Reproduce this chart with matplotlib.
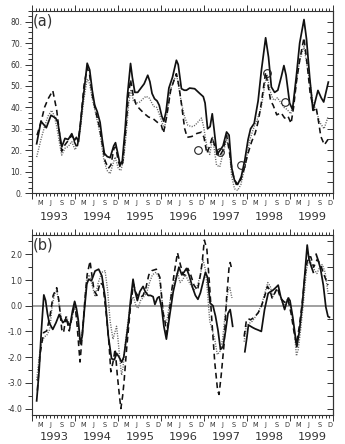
import numpy as np
import matplotlib
matplotlib.use('Agg')
import matplotlib.pyplot as plt
import matplotlib.transforms as mtransforms
from matplotlib.ticker import MultipleLocator, FixedLocator, NullLocator, FuncFormatter

# ---------------- data (months since Jan 1993, values) ----------------
# Panel (a)
a_solid_m = [1.3, 2.5, 4.0, 5.3, 6.6, 7.2, 8.3, 9.2, 10.1, 11.1, 11.8, 12.4, 13.0, 14.0, 15.4, 16.1,
             16.8, 17.5, 18.2, 19.0, 19.6, 20.2, 21.0, 21.8, 22.8, 23.3, 24.0, 24.6, 25.2, 26.0, 26.6,
             27.5, 28.0, 28.7, 29.5, 30.4, 31.3, 32.3, 32.9, 33.5, 34.2, 34.9, 35.5, 36.2, 36.8, 37.4,
             38.2, 39.2, 40.3, 40.8, 41.7, 42.5, 43.1, 44.0, 45.4, 46.8, 47.8, 48.3, 49.0, 49.7, 50.3,
             50.8, 51.6, 52.5, 53.3, 54.3, 55.0, 55.7, 56.5, 57.4, 58.4, 59.4, 60.3, 61.0, 62.0, 63.1,
             64.0, 65.2, 66.0, 66.8, 67.7, 68.6, 69.6, 70.3, 70.9, 71.9, 72.7, 73.8, 74.7, 75.9, 76.6,
             77.5, 78.4, 79.8, 80.7, 81.4, 82.7]
a_solid_v = [23, 33.5, 30.5, 36.3, 35, 33, 21.5, 25.5, 25, 27.7, 24.5, 26, 24, 40, 60.6, 57.5,
             48, 41, 38, 33, 25, 18.5, 17, 16.5, 22, 23.5, 18, 13, 15, 30, 45,
             60.5, 54, 47, 47, 49, 51, 55, 52, 46.5, 44, 43, 41, 36, 33.5, 38,
             49, 54, 62, 60, 48.7, 48, 48, 49, 48.7, 46.5, 45, 42, 30, 31, 37,
             30, 18, 20, 22, 28.5, 27, 12, 6, 4, 7.6, 15.5, 25, 30, 32.5, 43,
             57, 72.5, 63.5, 49.5, 47, 48, 54.5, 59.5, 55, 42, 39, 55, 70, 81, 72,
             54, 38.6, 47.9, 44.5, 42.5, 51.8]

a_dash_m = [1.4, 2.5, 3.5, 4.5, 5.8, 6.5, 6.9, 7.8, 8.3, 9.2, 10.1, 11.1, 11.8, 12.6, 13.5, 14.5,
            15.4, 16.1, 16.8, 17.8, 18.8, 19.7, 20.4, 21.3, 22.0, 22.9, 23.4, 24.0, 24.6, 25.3, 26.2,
            26.8, 27.5, 28.2, 29.1, 30.2, 31.4, 32.5, 33.8, 35.0, 36.1, 36.7, 37.5, 38.7, 39.5, 40.3,
            41.0, 41.7, 42.6, 43.3, 44.6, 46.0, 47.3, 48.0, 48.8, 49.6, 50.3, 51.0, 52.3, 53.3, 54.3,
            55.2, 56.0, 57.0, 58.0, 59.0, 60.3, 61.3, 62.3, 63.2, 64.0, 65.2, 65.9, 66.6, 67.3, 68.3,
            69.5, 70.5, 71.4, 72.3, 73.0, 73.8, 74.7, 75.9, 76.8, 77.6, 78.6, 79.3, 80.0, 80.6, 81.6,
            82.6]
a_dash_v = [27, 33, 40, 44, 47.8, 42, 38.6, 26, 19.5, 22.5, 24.5, 27, 24, 21, 32, 50,
            58.5, 55, 46, 38, 31, 22, 15, 11.5, 13, 21, 21.5, 15.5, 12, 14, 30,
            44, 53, 46, 41, 39, 37, 35.5, 34.7, 33, 31.6, 28, 35, 47.9, 52, 55.7,
            50, 41.7, 30.1, 26, 26.4, 27.8, 28.4, 26, 18.5, 22, 26, 22, 17, 20, 27,
            18, 9, 4, 5, 10, 18.6, 24, 28, 34, 42, 56.4, 50, 43, 41, 36.5,
            37.5, 35, 36, 32.5, 40, 52, 62, 72.5, 60, 47, 38.6, 40, 33, 26.4, 22.5,
            25]

a_dot_m = [1.3, 2.5, 3.5, 4.5, 5.5, 6.2, 6.9, 7.6, 8.3, 9.2, 10.1, 11.1, 12.0, 12.6, 13.5, 14.5,
           15.4, 16.1, 16.8, 17.8, 19.0, 20.0, 20.9, 21.8, 22.5, 23.2, 24.1, 24.8, 25.6, 26.3, 27.0,
           27.6, 28.3, 29.1, 30.1, 31.0, 31.8, 32.8, 33.9, 34.8, 35.6, 36.5, 37.0, 37.8, 38.6, 39.5,
           40.3, 41.0, 41.7, 42.6, 43.5, 44.6, 45.5, 46.5, 47.3, 47.9, 48.8, 49.6, 50.4, 51.5, 52.4,
           53.3, 54.3, 55.0, 55.7, 56.5, 57.4, 58.3, 59.6, 60.8, 62.0, 63.0, 64.0, 65.1, 65.6, 66.4,
           67.2, 67.7, 68.5, 69.5, 70.3, 71.2, 72.2, 73.0, 73.8, 74.7, 75.9, 76.7, 77.5, 78.4, 79.3,
           80.3, 81.5, 82.6]
a_dot_v = [16.8, 25, 31, 36, 38.6, 36, 31, 24, 17.7, 20.9, 21.7, 24, 20.2, 22, 30, 44,
           53.3, 51, 44, 37, 27.6, 16, 10.6, 9, 13, 16.8, 11.3, 10.5, 16, 28, 42,
           48.4, 43, 42, 42.5, 44, 45.2, 44.2, 40.5, 40, 36.5, 32, 30.5, 38, 47.9, 52,
           55.7, 49, 42, 35.5, 31.6, 31, 31.6, 33.5, 35, 31, 21.5, 18, 26, 13, 12.2,
           18.6, 24.8, 22, 8, 2, 1.2, 4, 13.6, 25, 31, 35, 40.2, 52, 55, 48,
           44, 43.3, 44.5, 42, 40, 39, 37, 42, 52, 61.9, 68.5, 60, 52.6, 42, 38.6,
           33, 30, 35.5]

a_circle_m = [46.4, 52.4, 58.4, 65.7, 70.5]
a_circle_v = [20, 19.2, 13, 56.2, 42.3]

# Panel (b)  (None = gap in the record)
b_solid_m = [1.3, 2.0, 2.6, 3.3, 3.8, 4.3, 4.8, 5.8, 6.7, 7.6, 8.6, 9.5, 10.6, 11.3, 11.9, 12.4,
             12.9, 13.5, 14.0, 14.6, 15.3, 15.8, 16.6, 17.6, 18.6, 19.5, 20.4, 21.3, 22.2, 23.0, 23.6,
             24.3, 25.0, 25.6, 26.2, 26.9, 27.5, 28.2, 28.7, 29.4, 30.1, 31.0, 31.6, 32.4, 33.1, 33.8,
             34.3, 35.0, 35.5, 36.2, 36.8, 37.5, 38.4, 39.4, 40.3, 41.0, 41.8, 42.4, 43.1, 43.8, 44.9,
             45.6, 46.3, 47.0, 47.7, 48.4, 49.0, 49.7, 50.5, 51.2, 51.9, 52.6, 53.3, 54.0, 54.7, 55.3,
             55.7, 56.0, None,
             59.4, 60.0, 60.4, 61.0, 61.6, 62.3, 63.2, 64.0, 64.9, 65.9, 66.6, 67.3, 68.0, 68.7, 69.4,
             70.0, 70.5, 71.0, 71.5, 72.0, 72.8, 73.5, 73.9, 74.6, 75.4, 76.0, 76.8, 77.3, 78.0, 78.5,
             None,
             79.3, 79.9, 80.5, 81.3, 82.0, 82.6, 83.0]
b_solid_v = [-3.7, -2.5, -1.0, 0.42, 0.2, -0.3, -0.66, -0.92, -0.66, -0.34, -0.66, -0.54, -0.79, -0.2, 0.17, -0.1,
             -0.54, -1.48, -1.2, -0.2, 0.84, 1.03, 0.97, 1.35, 1.42, 1.16, 0.33, -1.18, -2.06, -2.1, -1.85,
             -2.0, -2.2, -2.0, -1.4, -0.66, 0.2, 1.03, 0.6, 0.2, 0.55, 0.75, 0.55, 0.4, 0.4, 0.35,
             0.05, 0.3, 0.35, -0.1, -0.8, -1.3, -0.4, 0.54, 1.1, 1.5, 1.2, 1.3, 1.45, 1.2, 0.67,
             0.4, 0.25, 0.5, 0.9, 1.3, 1.1, 0.1, 0.0, -0.4, -0.95, -1.7, -1.6, -1.0, -0.3, -0.15,
             -0.5, -0.8, None,
             -1.79, -1.2, -0.75, -0.8, -0.85, -0.9, -0.95, -1.0, -0.15, 0.48, 0.55, 0.61, 0.7, 0.8, 0.35,
             0.1, -0.15, 0.1, 0.3, 0.2, -0.47, -1.2, -1.6, -1.0, 0.0, 1.0, 2.36, 1.8, 1.5, 1.3,
             None,
             2.0, 1.75, 1.45, 0.8, -0.05, -0.42, -0.45]

b_dash_m = [1.5, 2.2, 3.2, 4.1, 5.0, 5.9, 6.9, 7.5, 8.3, 8.8, 9.5, 10.4, 11.2, 12.0, 12.6, 13.4,
            14.0, 14.8, 15.4, 16.2, 16.8, 17.3, 18.1, 19.0, 19.8, 20.8, 21.5, 22.0, 22.6, 23.2, 23.8,
            24.4, 24.8, 25.3, 25.7, 26.4, 27.4, 28.3, 29.0, 30.0, 31.0, 31.8, 32.6, 33.4, 34.7, 35.7,
            36.6, 37.1, 37.6, 38.3, 39.0, 39.8, 40.6, 41.4, 42.2, 42.8, 43.5, 44.3, 45.2, 46.2, 47.0,
            47.5, 48.1, 48.8, 49.5, 50.2, 51.0, 51.8, 52.2, 52.8, 53.6, 54.3, 55.0, 55.3, 55.7, None,
            59.2, 59.8, 60.3, 61.0, 62.0, 63.1, 64.0, 65.0, 65.7, 66.4, 67.0, 67.8, 68.5, 69.3, 70.0,
            70.8, 71.5, 72.3, 73.1, 73.8, 74.6, 75.4, 76.2, 77.0, 77.8, 78.6, 79.6, 80.5, 81.5, 82.6]
b_dash_v = [-3.3, -1.93, -1.05, -0.98, -0.42, 0.4, 0.7, 0.2, -0.92, -1.05, -0.42, -0.98, -0.4, 0.1, -0.79, -2.19,
            -1.2, 0.3, 1.22, 1.73, 1.1, 0.6, 0.4, 0.9, 0.8, -0.42, -1.5, -2.57, -2.2, -1.68, -2.69,
            -3.5, -4.0, -3.5, -2.94, -1.68, -0.16, 0.85, 0.5, 0.3, 0.4, 0.7, 1.2, 1.36, 1.42, 1.1,
            -0.29, -0.6, -1.1, -0.3, 0.6, 1.36, 2.06, 1.6, 1.2, 1.2, 1.45, 1.2, 0.8, 0.6, 1.2,
            1.7, 2.55, 2.2, 0.9, -0.6, -2.2, -3.3, -3.45, -2.7, -1.5, 0.3, 1.5, 1.68, 1.45, None,
            -1.2, -0.6, -0.5, -0.55, -0.45, -0.28, -0.03, 0.4, 0.75, 0.6, 0.3, 0.5, 0.7, 0.3, 0.2,
            0.1, 0.2, -0.3, -1.0, -1.5, -0.8, 0.1, 1.2, 1.9, 1.9, 1.5, 1.8, 1.6, 1.2, 0.8]

b_dot_m = [1.3, 2.0, 2.7, 3.5, 4.1, 5.0, 5.6, 6.3, 6.9, 7.6, 8.2, 8.7, 9.6, 10.3, 11.0, 11.8,
           12.6, 13.3, 14.0, 14.8, 15.3, 16.0, 16.8, 17.6, 18.5, 19.5, 20.4, 21.1, 21.8, 22.6, 23.2,
           23.6, 24.0, 24.6, 25.0, 25.4, 26.0, 26.8, 27.6, 28.3, 29.0, 29.6, 30.3, 31.2, 32.0, 32.8,
           33.6, 34.6, 35.5, 36.2, 36.9, 37.5, 38.3, 39.0, 39.8, 40.6, 41.3, 42.0, 42.8, 43.5, 44.3,
           45.2, 46.2, 47.0, 47.7, 48.4, 49.0, 49.6, 50.2, 51.0, 51.7, 52.4, 53.2, 54.0, 54.7, 55.2,
           55.8, None,
           59.2, 59.8, 60.5, 61.5, 62.5, 63.3, 64.2, 65.0, 65.8, 66.5, 67.2, 68.0, 68.7, 69.5, 70.3,
           71.0, 71.7, 72.5, 73.2, 73.8, 74.3, 75.0, 75.8, 76.6, 77.3, 78.0, 78.8, 79.5, 80.3, 81.0,
           81.8, 82.6]
b_dot_v = [-2.9, -2.0, -1.41, -1.2, -1.16, -0.9, -0.03, 0.45, 0.6, 0.0, -0.5, -0.66, -0.4, -0.7, -0.6, 0.0,
           -0.5, -1.4, -1.1, 0.3, 1.1, 1.2, 0.8, 0.35, 0.9, 1.3, 1.36, 0.6, -0.6, -1.3, -1.0,
           -0.8, -1.3, -2.2, -2.7, -2.4, -1.5, -0.6, 0.2, 0.35, 0.0, -0.1, 0.2, 0.35, 0.5, 0.9,
           1.2, 1.3, 1.1, 0.3, -0.5, -0.7, 0.0, 0.6, 1.0, 1.3, 0.9, 1.0, 1.2, 1.0, 0.8,
           0.6, 0.8, 1.2, 1.8, 1.4, 0.5, -0.6, -0.9, -1.3, -1.9, -1.8, -1.3, -0.2, 0.6, 0.7,
           0.3, None,
           -1.4, -0.8, -0.7, -0.6, -0.4, -0.2, 0.1, 0.5, 0.9, 0.75, 0.35, 0.6, 0.6, 0.3, -0.05,
           0.2, 0.3, -0.3, -1.0, -1.95, -1.7, -0.9, 0.2, 1.4, 1.85, 1.6, 1.4, 1.25, 1.5, 1.6,
           1.3, 0.5]

years = [1993, 1994, 1995, 1996, 1997, 1998, 1999]
month_letters = ['M', 'J', 'S', 'D']
month_index = [2, 5, 8, 11]

# ---------------- helpers ----------------
def to_year(m):
    return np.array([np.nan if v is None else 1993 + v / 12.0 for v in m], dtype=float)

def to_val(v):
    return np.array([np.nan if x is None else x for x in v], dtype=float)

TXT = '#333333'
plt.rcParams['font.family'] = ['DejaVu Sans']

fig = plt.figure(figsize=(3.45, 4.44), dpi=100)
W, H = 345.0, 444.0
axa = fig.add_axes([32 / W, 1 - 193 / H, 301 / W, 182 / H])
axb = fig.add_axes([32 / W, 1 - 415 / H, 301 / W, 180 / H])

solid_kw = dict(color='#111111', lw=1.25, solid_joinstyle='round')
dash_kw = dict(color='#111111', lw=1.15, dashes=(3.6, 2.4))
dot_kw = dict(color='#666666', lw=1.0, dashes=(0.8, 1.0))

# panel a
axa.plot(to_year(a_dot_m), to_val(a_dot_v), **dot_kw)
axa.plot(to_year(a_dash_m), to_val(a_dash_v), **dash_kw)
axa.plot(to_year(a_solid_m), to_val(a_solid_v), **solid_kw)
axa.plot(to_year(a_circle_m), to_val(a_circle_v), ls='none', marker='o', ms=5.5,
         mfc='none', mec='#222222', mew=0.8)
axa.set_ylim(0, 85)

# panel b
axb.axhline(0, color='#999999', lw=1.3, zorder=1)
axb.plot(to_year(b_dot_m), to_val(b_dot_v), **dot_kw)
axb.plot(to_year(b_dash_m), to_val(b_dash_v), **dash_kw)
axb.plot(to_year(b_solid_m), to_val(b_solid_v), **solid_kw)
axb.set_ylim(-4.25, 2.75)

for ax, lab, major, minor, rmaj, fmt, ymon, yyear in [
        (axa, '(a)', 10, 2.5, 5, lambda v, p: f"{v:.0f}.", -0.055, -0.132),
        (axb, '(b)', 1.0, 0.5, 0.5, lambda v, p: f"{v:.1f}", -0.055, -0.123)]:
    ax.set_xlim(1993, 2000)
    ax.xaxis.set_major_locator(FixedLocator(list(range(1993, 2001))))
    ax.xaxis.set_minor_locator(FixedLocator([1993 + k / 12.0 for k in range(85)]))
    ax.tick_params(axis='x', which='both', top=True, bottom=True, direction='out',
                   labelbottom=False, color='#333333', width=0.7)
    ax.tick_params(axis='x', which='major', length=4.0)
    ax.tick_params(axis='x', which='minor', length=2.2)
    ax.yaxis.set_major_locator(MultipleLocator(major))
    ax.yaxis.set_minor_locator(MultipleLocator(minor))
    ax.yaxis.set_major_formatter(FuncFormatter(fmt))
    ax.tick_params(axis='y', which='both', left=True, right=False, direction='out',
                   color='#333333', width=0.7, labelsize=5.5, labelcolor=TXT, pad=2)
    ax.tick_params(axis='y', which='major', length=5)
    ax.tick_params(axis='y', which='minor', length=3)
    sec = ax.secondary_yaxis('right')
    sec.yaxis.set_major_locator(MultipleLocator(rmaj))
    sec.yaxis.set_minor_locator(NullLocator())
    sec.tick_params(axis='y', direction='in', length=4, width=0.7, color='#333333',
                    labelright=False)
    sec.spines['right'].set_color('#333333')
    sec.spines['right'].set_linewidth(0.8)
    for s in ax.spines.values():
        s.set_color('#333333')
        s.set_linewidth(0.8)
    ax.text(0.004, 0.985, lab, transform=ax.transAxes, ha='left', va='top',
            fontsize=10.5, color=TXT)
    trans = mtransforms.blended_transform_factory(ax.transData, ax.transAxes)
    for y in years:
        for mi, letter in zip(month_index, month_letters):
            ax.text(y + (mi + 0.2) / 12.0, ymon, letter, transform=trans,
                    ha='center', va='center', fontsize=4.8, color=TXT)
        ax.text(y + 6.2 / 12.0, yyear, str(y), transform=trans,
                ha='center', va='center', fontsize=8.2, color=TXT)

fig.savefig('out.png', dpi=100)
